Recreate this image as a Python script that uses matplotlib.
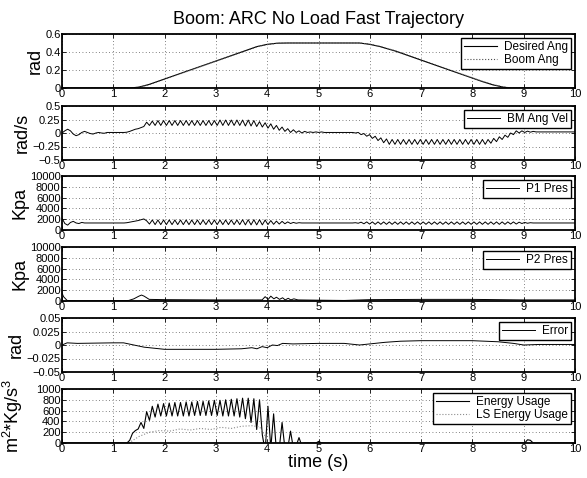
import numpy as np
import matplotlib
matplotlib.use('Agg')
import matplotlib.pyplot as plt

# Fonts - MATLAB style Helvetica look
plt.rcParams['font.family'] = ['Liberation Sans', 'DejaVu Sans']
plt.rcParams['mathtext.default'] = 'regular'

# ---- data ----
# boom angle (rad)
ang_t = [0, 1.33, 1.5, 1.7, 2.0, 2.5, 3.0, 3.5, 3.8, 4.0, 4.2, 4.4, 5.8, 6.0, 6.2, 6.5, 7.0, 7.5, 8.0, 8.2, 8.4, 8.6, 8.75, 10]
desired_ang = [0, 0, 0.01, 0.04, 0.1, 0.2, 0.3, 0.4, 0.46, 0.485, 0.498, 0.5, 0.5, 0.485, 0.46, 0.41, 0.31, 0.21, 0.11, 0.07, 0.035, 0.01, 0, 0]
boom_ang = [0, 0, 0.008, 0.037, 0.097, 0.197, 0.298, 0.398, 0.458, 0.483, 0.497, 0.5, 0.5, 0.487, 0.462, 0.413, 0.313, 0.213, 0.113, 0.073, 0.038, 0.012, 0.001, 0]

# sampled signals, one value every 0.055 s (10 values per row = 0.55 s)
sample_dt = 0.055

bm_ang_vel = [
    0.0, 0.04, 0.07, 0.04, -0.02, -0.05, -0.03, 0.01, 0.03, 0.01,
    -0.01, -0.02, 0.0, 0.01, 0.0, -0.005, 0.01, 0.01, 0.01, 0.01,
    0.01, 0.01, 0.01, 0.015, 0.03, 0.05, 0.07, 0.08, 0.1, 0.12,
    0.2, 0.14, 0.22, 0.14, 0.23, 0.14, 0.23, 0.14, 0.23, 0.14,
    0.23, 0.14, 0.23, 0.14, 0.23, 0.14, 0.23, 0.14, 0.23, 0.14,
    0.23, 0.14, 0.23, 0.14, 0.23, 0.14, 0.24, 0.14, 0.24, 0.14,
    0.24, 0.14, 0.24, 0.14, 0.24, 0.13, 0.24, 0.13, 0.23, 0.12,
    0.21, 0.11, 0.19, 0.09, 0.17, 0.07, 0.14, 0.05, 0.11, 0.03,
    0.08, 0.01, 0.06, 0.01, 0.04, 0.0, 0.03, 0.01, 0.02, 0.01,
    0.02, 0.01, 0.02, 0.01, 0.01, 0.01, 0.01, 0.01, 0.01, 0.01,
    0.01, 0.01, 0.01, 0.01, 0.0, 0.01, -0.03, -0.01, -0.06, -0.03,
    -0.1, -0.06, -0.14, -0.09, -0.18, -0.11, -0.21, -0.12, -0.21, -0.12,
    -0.21, -0.12, -0.21, -0.12, -0.21, -0.12, -0.21, -0.12, -0.21, -0.12,
    -0.21, -0.12, -0.21, -0.12, -0.21, -0.12, -0.21, -0.12, -0.21, -0.12,
    -0.21, -0.12, -0.21, -0.12, -0.21, -0.12, -0.21, -0.12, -0.21, -0.12,
    -0.21, -0.12, -0.19, -0.1, -0.16, -0.07, -0.12, -0.04, -0.08, 0.0,
    -0.03, 0.04, 0.0, 0.04, 0.01, 0.035, 0.015, 0.03, 0.02, 0.02,
    0.02, 0.02, 0.02, 0.02, 0.02, 0.02, 0.02, 0.02, 0.02, 0.02,
    0.02, 0.02, 0.02,
]

p1_pres = [
    2200, 1200, 900, 1400, 1600, 1300, 1200, 1400, 1300, 1300,
    1300, 1300, 1300, 1300, 1300, 1300, 1300, 1300, 1300, 1300,
    1300, 1300, 1300, 1350, 1450, 1550, 1650, 1750, 1900, 2050,
    1700, 1100, 1850, 1000, 1850, 1000, 1850, 1000, 1850, 1000,
    1850, 1000, 1850, 1000, 1850, 1000, 1850, 1000, 1850, 1000,
    1850, 1000, 1850, 1000, 1850, 1000, 1850, 1000, 1850, 1000,
    1850, 1000, 1850, 1000, 1900, 950, 1900, 950, 1900, 950,
    1900, 950, 1850, 1000, 1750, 1050, 1650, 1100, 1600, 1150,
    1500, 1200, 1400, 1250, 1350, 1300, 1300, 1300, 1300, 1300,
    1300, 1300, 1300, 1300, 1300, 1300, 1300, 1300, 1300, 1300,
    1300, 1300, 1300, 1300, 1350, 1250, 1450, 1150, 1500, 1100,
    1500, 1050, 1500, 1050, 1500, 1050, 1500, 1050, 1500, 1050,
    1500, 1050, 1500, 1050, 1500, 1050, 1500, 1050, 1500, 1050,
    1500, 1050, 1500, 1050, 1500, 1050, 1500, 1050, 1500, 1050,
    1500, 1050, 1500, 1050, 1500, 1050, 1500, 1050, 1500, 1050,
    1500, 1050, 1500, 1050, 1500, 1050, 1500, 1050, 1500, 1100,
    1500, 1100, 1450, 1200, 1400, 1250, 1350, 1300, 1300, 1300,
    1300, 1300, 1300, 1300, 1300, 1300, 1300, 1300, 1300, 1300,
    1300, 1300, 1300,
]

energy_usage = [
    0, 0, 0, 0, 0, 0, 0, 0, 0, 0,
    0, 0, 0, 0, 0, 0, 0, 0, 0, 0,
    0, 0, 0, 0, 50, 180, 230, 260, 380, 270,
    580, 420, 680, 480, 720, 500, 730, 500, 740, 500,
    750, 500, 750, 500, 760, 500, 760, 510, 770, 510,
    770, 510, 780, 510, 790, 510, 790, 500, 800, 500,
    810, 500, 820, 480, 830, 450, 830, 380, 820, 250,
    800, 150, -150, 680, -100, 540, -150, -100, 380, -100,
    -100, 220, -100, -50, 100, -50, 0, 0, 0, 0,
    0, 30, 0, 0, 0, 0, 0, 0, 0, 0,
    0, 0, 0, 0, 0, 0, 0, 0, 0, 0,
    0, 0, 0, 0, 0, 0, 0, 0, 0, 0,
    0, 0, 0, 0, 0, 0, 0, 0, 0, 0,
    0, 0, 0, 0, 0, 0, 0, 0, 0, 0,
    0, 0, 0, 0, 0, 0, 0, 0, 0, 0,
    0, 0, 0, 0, 0, 0, 0, 0, 0, 0,
    0, 0, 0, 0, 0, 60, 50, 0, 0, 0,
    0, 0, 0, 0, 0, 0, 0, 0, 0, 0,
    0, 0, 0,
]

# P2 pressure (Kpa)
p2_t = [0, 0.03, 0.1, 0.3, 1.0, 1.3, 1.4, 1.5, 1.55, 1.6, 1.7, 2.0, 3.0, 3.9, 3.96, 4.02, 4.07, 4.13, 4.18, 4.24,
        4.3, 4.35, 4.41, 4.46, 4.52, 4.6, 5.0, 5.5, 6.0, 7.0, 8.0, 9.0, 10]
p2_pres = [1500, 800, 100, 50, 50, 100, 400, 900, 1100, 900, 300, 250, 200, 200, 800, 300, 900, 400, 700, 300,
           600, 200, 500, 200, 400, 200, 150, 100, 250, 300, 300, 200, 200]

# tracking error (rad)
err_t = [0, 0.1, 0.3, 1.0, 1.2, 1.4, 1.6, 1.8, 2.0, 2.5, 3.0, 3.5, 3.7, 3.8, 3.9, 4.0, 4.1, 4.2, 4.3, 4.5,
         5.0, 5.5, 5.8, 6.0, 6.3, 6.6, 7.0, 7.5, 8.0, 8.5, 8.8, 9.0, 9.3, 10]
error = [0.0, 0.004, 0.003, 0.004, 0.004, 0.0, -0.004, -0.006, -0.008, -0.008, -0.008, -0.007, -0.005, -0.007,
         -0.003, -0.005, 0.0, -0.001, 0.003, 0.002, 0.003, 0.003, 0.0, 0.002, 0.005, 0.007, 0.008, 0.008, 0.008,
         0.006, 0.003, 0.0, 0.001, 0.001]

# LS energy usage (dotted)
ls_t = [1.3, 1.5, 1.7, 1.9, 2.1, 2.3, 2.5, 2.7, 2.9, 3.1, 3.3, 3.5, 3.7, 3.85, 3.95, 4.0, 10]
ls_energy = [0, 120, 200, 230, 220, 260, 240, 270, 250, 290, 270, 310, 320, 300, 150, 0, 0]

# axis ticks and labels
x_ticks = [0, 1, 2, 3, 4, 5, 6, 7, 8, 9, 10]
ang_ticks = [0, 0.2, 0.4, 0.6]
vel_ticks = [-0.5, -0.25, 0, 0.25, 0.5]
vel_labels = ['\u22120.5', '\u22120.25', '0', '0.25', '0.5']
pres_ticks = [0, 2000, 4000, 6000, 8000, 10000]
err_ticks = [-0.05, -0.025, 0, 0.025, 0.05]
err_labels = ['\u22120.05', '\u22120.025', '0', '0.025', '0.05']
energy_ticks = [0, 200, 400, 600, 800, 1000]

t_grid = np.arange(len(bm_ang_vel)) * sample_dt

# ---- figure ----
fig = plt.figure(figsize=(5.87, 4.78), dpi=100)

left = 62 / 587
width = 513 / 587
tops = [34, 106, 176, 247, 318, 389]
panel_h = 54


def make_axes(top_px):
    ax = fig.add_axes([left, 1 - (top_px + panel_h) / 478, width, panel_h / 478])
    ax.set_xlim(0, 10)
    ax.set_xticks(x_ticks)
    ax.tick_params(direction='in', top=True, right=True, labelsize=8, length=3, width=0.6, pad=1)
    ax.grid(True, linestyle=(0, (1, 3)), linewidth=0.6, color='0.35')
    for s in ax.spines.values():
        s.set_linewidth(1.3)
    return ax


leg_kw = dict(loc='upper right', fontsize=8.5, fancybox=False, edgecolor='black', framealpha=1,
              borderaxespad=0.35, handlelength=2.8, borderpad=0.25, labelspacing=0.1, handletextpad=0.6)

# panel 1: angles
ax1 = make_axes(tops[0])
ax1.plot(ang_t, desired_ang, color='black', lw=0.8, label='Desired Ang')
ax1.plot(ang_t, boom_ang, color='0.3', lw=0.8, ls=':', label='Boom Ang')
ax1.set_ylim(0, 0.6)
ax1.set_yticks(ang_ticks)
ax1.set_yticklabels(['0', '0.2', '0.4', '0.6'])
ax1.set_ylabel('rad', fontsize=13, labelpad=1)
ax1.legend(**leg_kw).get_frame().set_linewidth(1.0)
ax1.set_title('Boom: ARC No Load Fast Trajectory', fontsize=13, pad=7)

# panel 2: angular velocity
ax2 = make_axes(tops[1])
ax2.plot(t_grid, bm_ang_vel, color='black', lw=0.7, label='BM Ang Vel')
ax2.set_ylim(-0.5, 0.5)
ax2.set_yticks(vel_ticks)
ax2.set_yticklabels(vel_labels)
ax2.set_ylabel('rad/s', fontsize=13, labelpad=1)
ax2.legend(**leg_kw).get_frame().set_linewidth(1.0)

# panel 3: P1 pressure
ax3 = make_axes(tops[2])
ax3.plot(t_grid, p1_pres, color='black', lw=0.7, label='P1 Pres')
ax3.set_ylim(0, 10000)
ax3.set_yticks(pres_ticks)
ax3.set_yticklabels([str(v) for v in pres_ticks])
ax3.set_ylabel('Kpa', fontsize=13, labelpad=1)
ax3.legend(**leg_kw).get_frame().set_linewidth(1.0)

# panel 4: P2 pressure
ax4 = make_axes(tops[3])
ax4.plot(p2_t, p2_pres, color='black', lw=0.7, label='P2 Pres')
ax4.set_ylim(0, 10000)
ax4.set_yticks(pres_ticks)
ax4.set_yticklabels([str(v) for v in pres_ticks])
ax4.set_ylabel('Kpa', fontsize=13, labelpad=1)
ax4.legend(**leg_kw).get_frame().set_linewidth(1.0)

# panel 5: error
ax5 = make_axes(tops[4])
ax5.plot(err_t, error, color='black', lw=0.7, label='Error')
ax5.set_ylim(-0.05, 0.05)
ax5.set_yticks(err_ticks)
ax5.set_yticklabels(err_labels)
ax5.set_ylabel('rad', fontsize=13, labelpad=1)
ax5.legend(**leg_kw).get_frame().set_linewidth(1.0)

# panel 6: energy
ax6 = make_axes(tops[5])
ax6.plot(t_grid, energy_usage, color='black', lw=0.8, label='Energy Usage')
ax6.plot(ls_t, ls_energy, color='0.55', lw=0.8, ls=':', label='LS Energy Usage')
ax6.set_ylim(0, 1000)
ax6.set_yticks(energy_ticks)
ax6.set_yticklabels([str(v) for v in energy_ticks])
ax6.set_ylabel(r'm$^2$*Kg/s$^3$', fontsize=13)
ax6.yaxis.set_label_coords(-0.072, 0.5)
ax6.set_xlabel('time (s)', fontsize=13, labelpad=0)
ax6.legend(**leg_kw).get_frame().set_linewidth(1.0)

fig.savefig('out.png', dpi=100)
